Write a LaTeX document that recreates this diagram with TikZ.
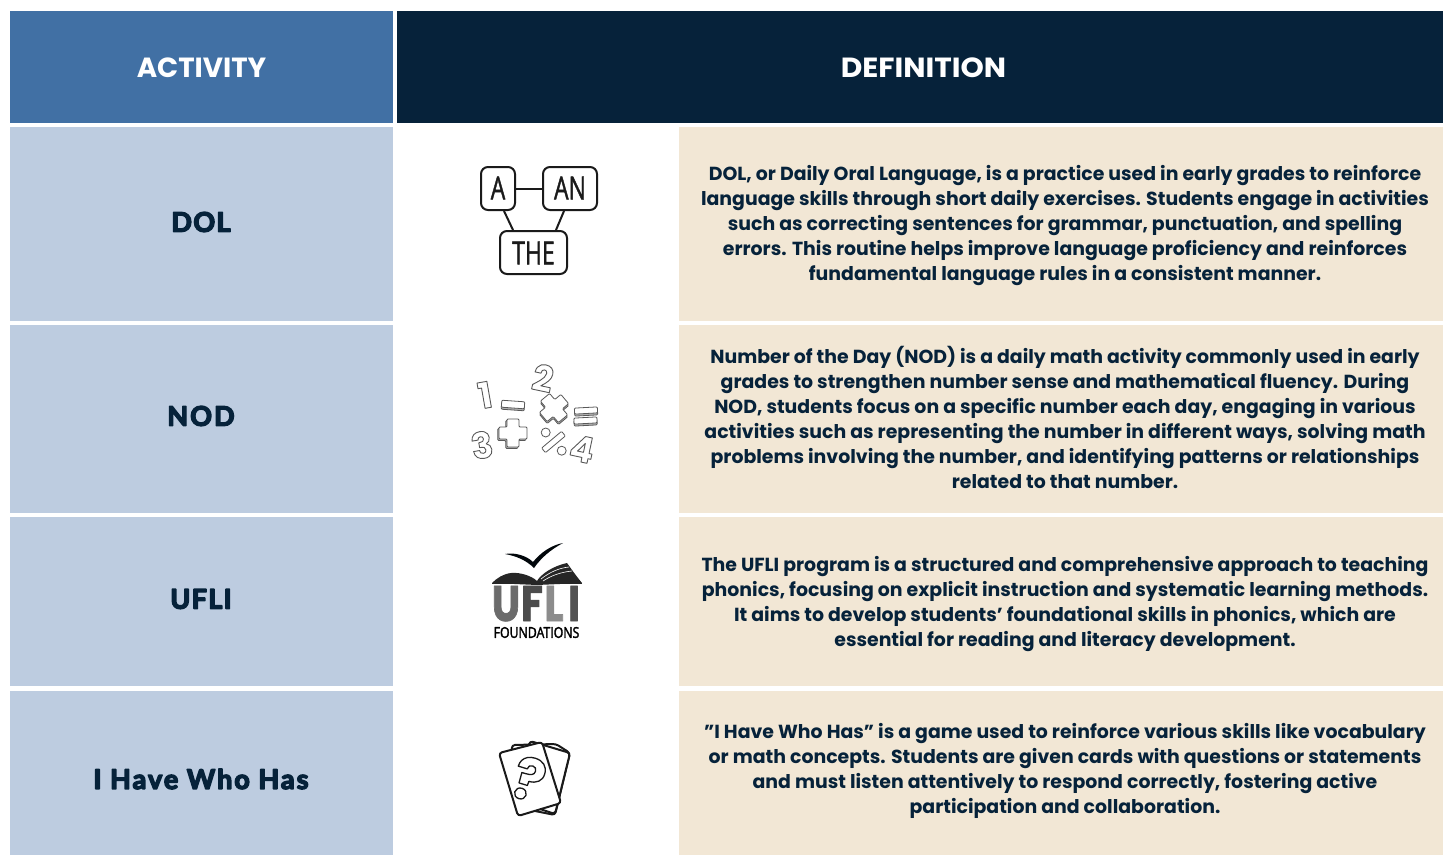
\documentclass[tikz,border=0pt]{standalone}
\usepackage{fontspec}
\setmainfont{Poppins}
\newfontfamily\handfont{Lato}[LetterSpace=5]
\newfontfamily\handwide{Lato}[LetterSpace=7.5]
\newfontfamily\thinfont{Open Sans}
\usetikzlibrary{calc}
\definecolor{hdrblue}{HTML}{4170A4}
\definecolor{hdrdark}{HTML}{06223A}
\definecolor{cellblue}{HTML}{BDCCE0}
\definecolor{cellsand}{HTML}{F2E7D5}
\definecolor{inkline}{HTML}{1A1A1A}
\newcommand\strk[2]{\special{pdf:code #1 Tr #2 w 1 j 1 J}}
\newcommand\strkoff{\special{pdf:code 0 Tr 0.4 w}}
\newcommand\handtxt[1]{\strk{2}{1.4}\handfont\bfseries #1\strkoff}
\newcommand\handtxtw[1]{\strk{2}{1.4}\handwide\bfseries #1\strkoff}
\newcommand\hollow[2]{\special{pdf:code #1 #1 #1 RG 2 Tr #2 w 1 j 1 J}}
\tikzset{
  cell/.style={inner sep=0pt,outer sep=0pt,minimum width=#1},
  hdrlabel/.style={text=white,font=\fontsize{27.7}{30}\selectfont\bfseries},
  handlabel/.style={text=hdrdark,font=\fontsize{27}{30}\selectfont},
  deftext/.style={text=hdrdark,align=center,inner sep=0pt,font=\fontsize{18.9}{25}\selectfont\bfseries},
  wordbox/.style={draw=inkline,line width=2pt,rounded corners=7pt,inner sep=0pt,fill=white},
  wordtxt/.style={font=\fontsize{32}{34}\selectfont\thinfont,text=inkline,xscale=.72},
  wordlink/.style={draw=inkline,line width=2pt},
  card/.style={draw=inkline,line width=2pt,fill=white,rounded corners=3pt,line join=round},
  mathdigit/.style={text=white,inner sep=0pt,font=\fontsize{36}{38}\selectfont\bfseries},
  mathfront/.style={draw=black!65,line width=.8pt,fill=white,rounded corners=1pt},
  mathback/.style={draw=black!65,line width=.8pt,fill=black!30,rounded corners=1pt},
  logoletter/.style={inner sep=0pt,text height=34pt,text depth=0pt,font=\fontsize{50}{50}\selectfont\bfseries}
}
\begin{document}
\begin{tikzpicture}[x=1pt,y=-1pt]
\useasboundingbox (0,0) rectangle (1443,855);
\fill[white] (0,0) rectangle (1443,855);
% header cells
\node[cell=383pt,minimum height=112pt,fill=hdrblue] (hActivity) at (201.5,67) {};
\node[cell=1046pt,minimum height=112pt,fill=hdrdark] (hDefinition) at (920,67) {};
\node[hdrlabel] (tActivity) at (201.5,68) {ACTIVITY};
\node[hdrlabel,xscale=1.07] (tDefinition) at (923.5,68) {DEFINITION};
% left cells
\node[cell=383pt,minimum height=194pt,fill=cellblue] (l1) at (201.5,224) {};
\node[cell=383pt,minimum height=188pt,fill=cellblue] (l2) at (201.5,419) {};
\node[cell=383pt,minimum height=169pt,fill=cellblue] (l3) at (201.5,601.5) {};
\node[cell=383pt,minimum height=164pt,fill=cellblue] (l4) at (201.5,773) {};
% right cells
\node[cell=764pt,minimum height=194pt,fill=cellsand] (r1) at (1061,224) {};
\node[cell=764pt,minimum height=188pt,fill=cellsand] (r2) at (1061,419) {};
\node[cell=764pt,minimum height=169pt,fill=cellsand] (r3) at (1061,601.5) {};
\node[cell=764pt,minimum height=164pt,fill=cellsand] (r4) at (1061,773) {};
% left labels
\node[handlabel] (tDol) at (201,222) {\handtxt{DOL}};
\node[handlabel] (tNod) at (201,416) {\handtxtw{NOD}};
\node[handlabel] (tUfli) at (201,599) {\handtxt{UFLI}};
\node[handlabel] (tHave) at (201,779) {\handtxtw{I Have Who Has}};
% definitions
\node[deftext] (d1) at (1065,226) {DOL, or Daily Oral Language, is a practice used in early grades to reinforce\\language skills through short daily exercises. Students engage in activities\\such as correcting sentences for grammar, punctuation, and spelling\\errors. This routine helps improve language proficiency and reinforces\\fundamental language rules in a consistent manner.};
\node[deftext] (d2) at (1065,417) {Number of the Day (NOD) is a daily math activity commonly used in early\\grades to strengthen number sense and mathematical fluency. During\\NOD, students focus on a specific number each day, engaging in various\\activities such as representing the number in different ways, solving math\\problems involving the number, and identifying patterns or relationships\\related to that number.};
\node[deftext] (d3) at (1065,604) {The UFLI program is a structured and comprehensive approach to teaching\\phonics, focusing on explicit instruction and systematic learning methods.\\It aims to develop students\char39\ foundational skills in phonics, which are\\essential for reading and literacy development.};
\node[deftext] (d4) at (1065,771) {"I Have Who Has" is a game used to reinforce various skills like vocabulary\\or math concepts. Students are given cards with questions or statements\\and must listen attentively to respond correctly, fostering active\\participation and collaboration.};
% word icon
\node[wordbox,minimum width=34pt,minimum height=43pt] (wA) at (498,188.5) {};
\node[wordbox,minimum width=54pt,minimum height=43pt] (wAn) at (570,188.5) {};
\node[wordbox,minimum width=67pt,minimum height=43pt] (wThe) at (533.5,252.5) {};
\node[wordtxt] (wAt) at (498,188) {\strk{2}{.5}A\strkoff};
\node[wordtxt] (wAnt) at (570,188) {\strk{2}{.5}AN\strkoff};
\node[wordtxt] (wThet) at (533.5,253) {\strk{2}{.5}THE\strkoff};
\draw[wordlink] (wA.east) -- (wAn.west);
\draw[wordlink] ([xshift=6pt]wA.south) -- ([xshift=-20.5pt]wThe.north);
\draw[wordlink] ([xshift=-6pt]wAn.south) -- ([xshift=22.5pt]wThe.north);
% math icon
\node[mathdigit,rotate=10] (m1) at (485,395) {\hollow{.35}{.9}1\strkoff};
\node[mathdigit,rotate=-12] (m2) at (543,378) {\hollow{.35}{.9}2\strkoff};
\node[mathdigit,rotate=10] (m3) at (482,445) {\hollow{.35}{.9}3\strkoff};
\node[mathdigit,rotate=-12] (m4) at (582,449) {\hollow{.35}{.9}4\strkoff};
\foreach \px/\py/\ang/\w/\h in {513/405/-4/23/7, 586/411/3/23/6, 585.5/421/3/23/6}{
  \begin{scope}[shift={(\px,\py)},rotate=\ang]
    \draw[mathback] (-\w/2,-\h/2+1.5) rectangle (\w/2,\h/2+1.5);
    \draw[mathfront] (-\w/2,-\h/2-.5) rectangle (\w/2,\h/2-.5);
  \end{scope}
}
\foreach \px/\py/\ang in {513/433/0, 554/408/40}{
  \begin{scope}[shift={(\px,\py)},rotate=\ang]
    \draw[mathback,shift={(-1.2,1.5)}] (-6,-14) -- (6,-14) -- (6,-6) -- (14,-6) -- (14,6) -- (6,6) -- (6,14) -- (-6,14) -- (-6,6) -- (-14,6) -- (-14,-6) -- (-6,-6) -- cycle;
    \draw[mathfront] (-6,-14) -- (6,-14) -- (6,-6) -- (14,-6) -- (14,6) -- (6,6) -- (6,14) -- (-6,14) -- (-6,6) -- (-14,6) -- (-14,-6) -- (-6,-6) -- cycle;
  \end{scope}
}
\begin{scope}[shift={(553.5,442)},rotate=40]
  \draw[mathfront] (-13,-3) rectangle (13,3);
\end{scope}
\draw[mathfront] (545.7,432.5) circle (4.5);
\draw[mathfront] (561.7,450.7) circle (4.5);
% logo
\fill[hdrdark!20!black] (505,554) .. controls (515,552) and (527,556) .. (533,562) .. controls (541,552) and (552,545) .. (563,543) .. controls (550,550) and (541,558) .. (534,568) .. controls (526,560) and (516,556) .. (505,554) -- cycle;
\fill[black!85] (492,583) .. controls (497,578) and (503,574) .. (511,573) .. controls (520,572) and (532,576) .. (537,581) .. controls (541,574) and (553,566) .. (567,563) .. controls (572,570) and (577,577) .. (582,583) -- (537,585) -- cycle;
\draw[white,line width=.6pt] (541,579) .. controls (550,572) and (559,568) .. (569,567) (543,581) .. controls (552,575) and (562,572) .. (572,571);
\draw[black!85,line width=1pt] (492,583.5) -- (582,583.5);
\node[logoletter,text=black!58,xscale=.80] (lgU) at (506,604) {\strk{2}{.8}U\strkoff};
\node[logoletter,text=black!70,xscale=.80] (lgF) at (532,604) {\strk{2}{.8}F\strkoff};
\node[logoletter,text=black!45,xscale=.80] (lgL) at (554,604) {\strk{2}{.8}L\strkoff};
\node[logoletter,text=black!68,xscale=.80] (lgI) at (574,604) {\strk{2}{.8}I\strkoff};
\node[inner sep=0pt,text=black,font=\fontsize{15}{16}\selectfont\thinfont,xscale=.82] (lgFound) at (536.5,632.5) {\strk{2}{.35}FOUNDATIONS\strkoff};
% cards
\draw[card] (512,745) -- (556,744) -- (570,753) -- (555,815) -- (520,808) -- (510,790) -- cycle;
\draw[card] (530,741) -- (570,753) -- (555,814) -- (513,800) -- cycle;
\draw[card] (499,753) -- (542,742) -- (561,803) -- (518,816) -- cycle;
\node[inner sep=0pt,text=white,rotate=-17,font=\fontsize{58}{60}\selectfont\bfseries] (cardQ) at (529,779) {\hollow{.1}{1.3}?\strkoff};
\end{tikzpicture}
\end{document}
